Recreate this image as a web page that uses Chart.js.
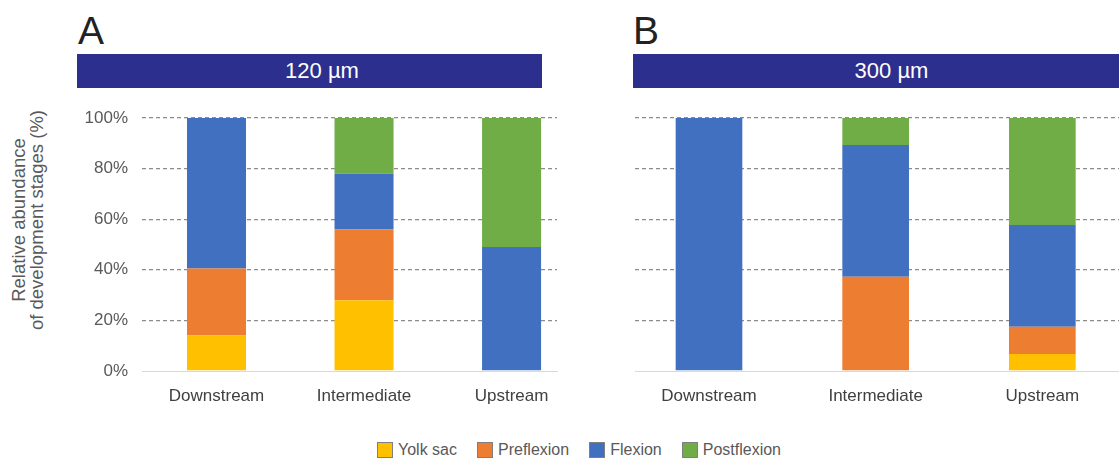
<!DOCTYPE html>
<html>
<head>
<meta charset="utf-8">
<script src="https://cdn.jsdelivr.net/npm/chart.js@4.4.1/dist/chart.umd.min.js"></script>
<style>
  html, body { margin: 0; padding: 0; background: #fff; }
  body { width: 1119px; height: 468px; overflow: hidden; position: relative;
         font-family: "Liberation Sans", Arial, sans-serif; }
  .letter { position: absolute; top: 11px; font-size: 39px; line-height: 39px; color: #222; }
  .banner { position: absolute; top: 54px; height: 34px; background: #2C2F8E; color: #fff;
            font-size: 22px; line-height: 34px; text-align: center; box-sizing: border-box; }
  canvas { position: absolute; }
  #ytitle { position: absolute; left: 28px; top: 220px; width: 0; height: 0; }
  #ytitle div { position: absolute; transform: translate(-50%, -50%) rotate(-90deg);
                white-space: nowrap; font-size: 18.5px; line-height: 18px; color: #595959; text-align: center; }
  #legend { position: absolute; left: 0; width: 1158px; top: 442px; display: flex; justify-content: center;
            font-size: 16px; color: #595959; line-height: 16px; }
  .li { display: flex; align-items: center; margin: 0 10px; }
  .sw { width: 14px; height: 14px; border: 1px solid #7f7f7f; margin-right: 5px; }
</style>
</head>
<body>
<div class="letter" style="left:78px">A</div>
<div class="letter" style="left:633px">B</div>
<div class="banner" style="left:77px;width:465px;padding-left:25px">120 µm</div>
<div class="banner" style="left:633px;width:486px;padding-left:31px">300 µm</div>
<div id="ytitle"><div>Relative abundance<br>of development stages (%)</div></div>
<canvas id="cA" width="580" height="311" style="left:0;top:100px"></canvas>
<canvas id="cB" width="484" height="311" style="left:635px;top:100px"></canvas>
<div id="legend"></div>
<script>
// ---- data ----
const categories = ['Downstream', 'Intermediate', 'Upstream'];
const stages = ['Yolk sac', 'Preflexion', 'Flexion', 'Postflexion'];
const panelTitles = ['120 µm', '300 µm'];
const yTicks = [0, 20, 40, 60, 80, 100];

// 120 µm (panel A), % per stage
const yolkSac120     = [14,   28, 0];
const preflexion120  = [26.5, 28, 0];
const flexion120     = [59.5, 22, 49];
const postflexion120 = [0,    22, 51];

// 300 µm (panel B)
const yolkSac300     = [0,   0,    6.7];
const preflexion300  = [0,   37.3, 10.8];
const flexion300     = [100, 52,   40.2];
const postflexion300 = [0,   10.7, 42.3];

const stageColors = ['#FFC000', '#ED7D31', '#4270C0', '#70AD47'];

function makeDatasets(series) {
  return series.map((vals, s) => ({
    label: stages[s],
    data: categories.map((c, i) => ({ x: i, y: vals[i] })),
    backgroundColor: stageColors[s],
    borderWidth: 0,
    categoryPercentage: 0.8,
    barPercentage: 0.5
  }));
}

function makeOptions(showY, xmin, xmax) {
  return {
    responsive: false,
    animation: false,
    layout: { padding: { top: 18, right: showY ? 23 : 0, bottom: 0, left: 0 } },
    plugins: { legend: { display: false }, tooltip: { enabled: false } },
    scales: {
      x: {
        type: 'linear',
        stacked: true,
        offset: false,
        min: xmin, max: xmax,
        afterBuildTicks: s => { s.ticks = categories.map((c, i) => ({ value: i })); },
        afterFit: s => { s.height = 40; },
        grid: { display: false, drawTicks: false, offset: false },
        border: { display: true, color: '#D9D9D9', width: 1 },
        ticks: {
          autoSkip: false, maxRotation: 0, padding: 15,
          color: '#404040', font: { size: 17, family: '"Liberation Sans", Arial, sans-serif' },
          callback: v => categories[v] !== undefined ? categories[v] : ''
        }
      },
      y: {
        stacked: true,
        min: 0, max: 100,
        afterBuildTicks: s => { s.ticks = yTicks.map(v => ({ value: v })); },
        afterFit: s => { s.width = showY ? 142 : 0; s.paddingTop = 10; s.paddingBottom = 10; },
        grid: {
          drawTicks: false,
          color: ctx => ctx.tick && ctx.tick.value === 0 ? 'rgba(0,0,0,0)' : '#8C8C8C',
          lineWidth: 1.3
        },
        border: { display: false, dash: [4, 3] },
        ticks: {
          display: showY, padding: 14,
          color: '#595959', font: { size: 17, family: '"Liberation Sans", Arial, sans-serif' },
          callback: v => v + '%'
        }
      }
    }
  };
}

new Chart(document.getElementById('cA'), {
  type: 'bar',
  data: { datasets: makeDatasets([yolkSac120, preflexion120, flexion120, postflexion120]) },
  options: makeOptions(true, -0.505, 2.308)
});
new Chart(document.getElementById('cB'), {
  type: 'bar',
  data: { datasets: makeDatasets([yolkSac300, preflexion300, flexion300, postflexion300]) },
  options: makeOptions(false, -0.444, 2.46)
});

// legend
const lg = document.getElementById('legend');
stages.forEach((s, i) => {
  const it = document.createElement('div'); it.className = 'li';
  const sw = document.createElement('div'); sw.className = 'sw'; sw.style.background = stageColors[i];
  const tx = document.createElement('span'); tx.textContent = s;
  it.appendChild(sw); it.appendChild(tx); lg.appendChild(it);
});
</script>
</body>
</html>
